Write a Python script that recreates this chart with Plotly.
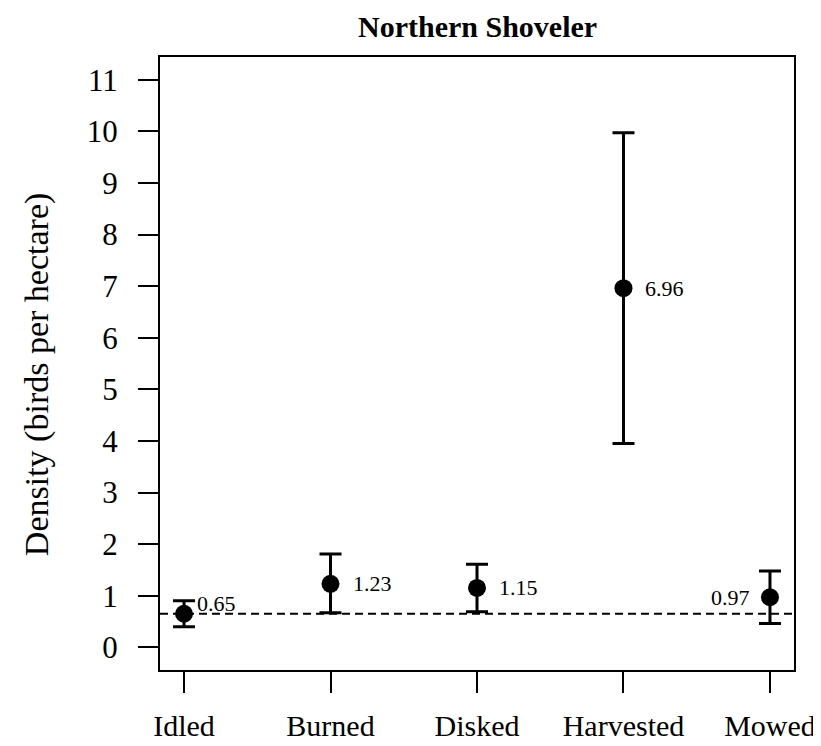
import plotly.graph_objects as go

categories = ["Idled", "Burned", "Disked", "Harvested", "Mowed"]
density = [0.65, 1.23, 1.15, 6.96, 0.97]
lower = [0.40, 0.67, 0.69, 3.95, 0.46]
upper = [0.90, 1.81, 1.61, 9.97, 1.48]
reference_density = 0.65
y_ticks = list(range(0, 12))

FONT = "Liberation Serif"
xs = list(range(1, len(categories) + 1))

fig = go.Figure()

fig.add_trace(go.Scatter(
    x=xs, y=density, mode="markers",
    marker=dict(size=18, color="black", symbol="circle"),
    error_y=dict(type="data", symmetric=False,
                 array=[u - d for u, d in zip(upper, density)],
                 arrayminus=[d - l for d, l in zip(density, lower)],
                 color="black", thickness=3, width=11),
    showlegend=False, hoverinfo="skip", cliponaxis=False,
))

fig.add_shape(type="line", xref="paper", yref="y", x0=0, x1=1,
              y0=reference_density, y1=reference_density,
              line=dict(color="black", width=2, dash="8px,5px"), layer="below")

# value labels
offsets = [(11, 10), (20, 0), (20, 0), (20, 0), (-18, 0)]
for x, v, (dx, dy) in zip(xs, density, offsets):
    fig.add_annotation(x=x, y=v, xref="x", yref="y", text=f"{v:.2f}",
                       showarrow=False, xanchor="left" if dx > 0 else "right",
                       yanchor="middle", xshift=dx, yshift=dy,
                       font=dict(family=FONT, size=22, color="black"))

fig.add_annotation(text="<b>Northern Shoveler</b>", xref="paper", yref="paper",
                   x=0.5, y=1.05, showarrow=False, xanchor="center", yanchor="middle",
                   font=dict(family=FONT, size=30, color="black"))
fig.add_annotation(text="Density (birds per hectare)", xref="paper", yref="paper",
                   x=-0.194, y=0.481, showarrow=False, textangle=-90,
                   xanchor="center", yanchor="middle",
                   font=dict(family=FONT, size=34, color="black"))

fig.update_layout(
    width=813, height=738,
    margin=dict(l=152, r=27, t=49, b=76),
    paper_bgcolor="white", plot_bgcolor="white",
    font=dict(family=FONT, size=31, color="black"),
    xaxis=dict(range=[0.836, 5.164], tickvals=xs, ticktext=categories,
               showgrid=False, zeroline=False, showline=True, mirror=True,
               automargin=False,
               linecolor="black", linewidth=2, ticks="outside", ticklen=21,
               tickwidth=2, tickcolor="black", ticklabelstandoff=7,
               tickfont=dict(family=FONT, size=30)),
    yaxis=dict(range=[-0.44, 11.44], tickvals=y_ticks,
               showgrid=False, zeroline=False, showline=True, mirror=True,
               automargin=False,
               linecolor="black", linewidth=2, ticks="outside", ticklen=20,
               tickwidth=2, tickcolor="black", ticklabelstandoff=14,
               tickfont=dict(family=FONT, size=31)),
)

fig.write_html("out.html")
